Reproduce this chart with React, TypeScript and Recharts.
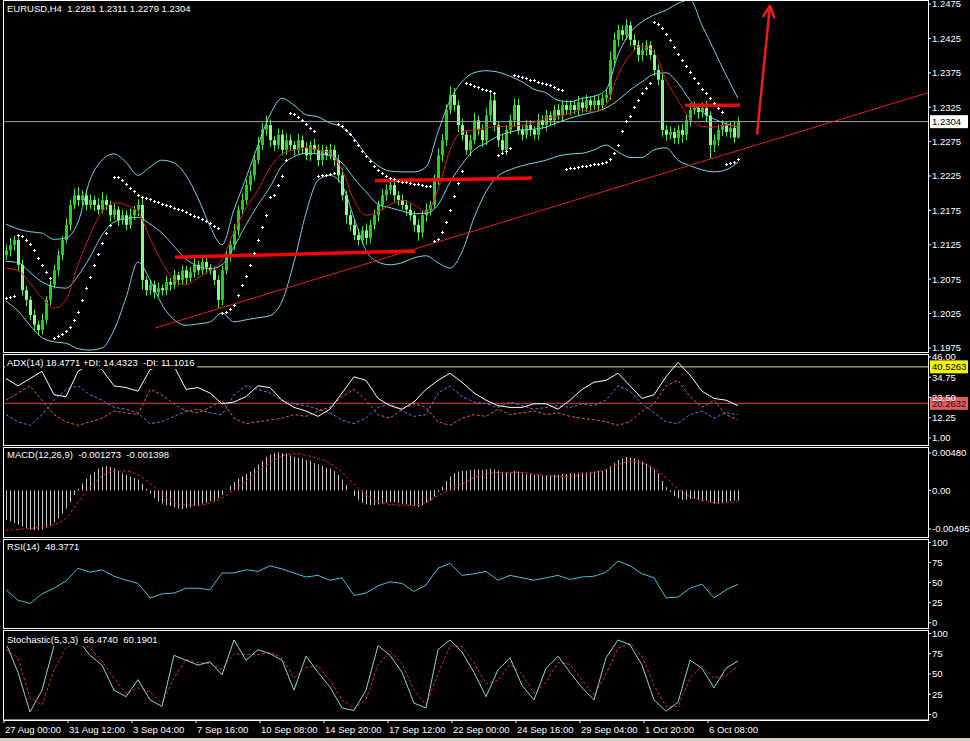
import React from "react";
import { ComposedChart, Bar, Line, XAxis, YAxis, ReferenceLine } from "recharts";

const FONT = '"Liberation Sans", Arial, sans-serif';
const FS = 9.5;

// prices are pips above 1.2000 (117 -> 1.2117), one value per H4 bar
const firstOpen = 110;
const closes = [
  117, 125, 132, 96, 59, 45, 23, 9, 1, 16,
  45, 67, 88, 110, 132, 154, 183, 197, 190, 197,
  183, 190, 183, 176, 190, 183, 168, 176, 161, 168,
  154, 168, 176, 183, 74, 59, 67, 56, 62, 59,
  71, 67, 81, 74, 88, 77, 85, 96, 88, 100,
  92, 88, 74, 45, 88, 110, 125, 146, 176, 190,
  212, 226, 248, 270, 292, 299, 277, 270, 285, 263,
  277, 270, 263, 277, 266, 255, 270, 263, 248, 263,
  255, 263, 248, 226, 197, 168, 154, 139, 132, 146,
  135, 154, 168, 183, 197, 205, 212, 197, 190, 183,
  176, 168, 154, 143, 168, 176, 183, 219, 255, 277,
  321, 343, 328, 299, 285, 263, 277, 306, 292, 277,
  313, 335, 299, 277, 263, 292, 306, 328, 292, 285,
  299, 292, 285, 306, 299, 313, 306, 321, 313, 328,
  321, 328, 321, 332, 324, 335, 328, 335, 328, 338,
  343, 394, 423, 437, 430, 444, 423, 415, 401, 408,
  415, 401, 379, 365, 292, 285, 289, 280, 292, 285,
  306, 321, 324, 318, 324, 313, 270, 277, 292, 299,
  289, 295, 281, 304,
];
const wickUp = [
  8, 10, 6, 5, 7, 6, 5, 8, 6, 9,
  5, 6, 8, 7, 6, 9, 8, 10, 12, 7,
  9, 8, 6, 10, 12, 7, 6, 9, 5, 8,
  7, 10, 6, 8, 9, 5, 7, 6, 8, 5,
  9, 6, 8, 5, 7, 6, 8, 10, 6, 7,
  8, 5, 6, 7, 6, 8, 7, 9, 6, 10,
  8, 7, 9, 12, 10, 14, 8, 6, 9, 7,
  10, 8, 6, 9, 7, 8, 6, 9, 8, 7,
  6, 9, 7, 8, 10, 6, 7, 8, 9, 6,
  10, 7, 8, 6, 9, 8, 11, 7, 6, 8,
  7, 9, 6, 8, 7, 9, 6, 8, 10, 9,
  8, 12, 10, 7, 9, 6, 8, 11, 7, 8,
  10, 12, 8, 6, 9, 7, 8, 10, 9, 6,
  8, 7, 6, 9, 7, 8, 6, 7, 9, 6,
  8, 7, 6, 9, 7, 8, 6, 7, 8, 6,
  7, 12, 10, 8, 7, 9, 6, 8, 7, 10,
  8, 6, 7, 8, 9, 7, 8, 6, 7, 9,
  8, 10, 9, 7, 8, 10, 6, 9, 8, 7,
  6, 8, 10, 7,
];
const wickDown = [
  7, 9, 8, 10, 8, 9, 7, 10, 8, 6,
  7, 8, 6, 9, 7, 5, 8, 6, 9, 7,
  8, 6, 9, 7, 5, 8, 10, 6, 9, 7,
  8, 6, 7, 9, 14, 8, 7, 9, 6, 8,
  7, 9, 6, 8, 7, 9, 6, 8, 7, 6,
  9, 7, 8, 12, 8, 6, 9, 7, 8, 6,
  7, 9, 8, 6, 7, 8, 10, 9, 6, 8,
  7, 9, 8, 6, 9, 7, 8, 6, 9, 8,
  7, 6, 9, 10, 8, 12, 9, 7, 8, 6,
  10, 8, 7, 9, 6, 8, 7, 9, 8, 7,
  9, 8, 10, 12, 7, 9, 8, 6, 7, 9,
  8, 6, 9, 10, 8, 7, 9, 6, 8, 10,
  7, 8, 9, 10, 7, 8, 6, 9, 7, 8,
  6, 9, 7, 8, 6, 9, 7, 8, 6, 9,
  7, 8, 6, 9, 7, 6, 8, 7, 9, 8,
  7, 8, 9, 10, 8, 7, 9, 8, 10, 9,
  8, 7, 9, 8, 10, 9, 7, 8, 9, 12,
  8, 9, 7, 10, 8, 9, 20, 10, 8, 9,
  7, 9, 8, 2,
];
// parabolic SAR, one dot per bar
const sar = [
  48, 49, 50,
  139, 138, 132, 126, 117, 106, 96, 86, 77,
  -10, -8, -5, 0, 6, 15, 28, 45, 62, 78, 95, 112, 128, 142, 154,
  224, 223, 219, 214, 208, 203, 198, 195, 193, 191, 189, 187, 185, 183, 181,
  179, 177, 175, 172, 170, 167, 165, 162, 159, 156, 153, 150,
  26, 27, 31, 38, 52, 66, 80, 96, 113, 132, 151, 168, 194, 197, 212, 225, 248,
  316, 315, 311, 306, 300, 295, 290,
  225, 226, 227, 228, 229,
  300, 297, 292, 286, 278, 270, 262, 254, 247, 240, 234, 229, 225, 222, 220,
  218, 217, 216, 215, 214, 213, 212, 211, 210,
  130, 133, 143, 158, 175, 196, 215, 232,
  360, 358, 356, 354, 352, 350, 348, 346,
  255, 258, 262, 266,
  372, 370, 369, 367, 365, 364, 362, 360, 359, 357, 355, 352, 350,
  235, 236, 237, 238, 239, 240, 241, 242, 243, 244, 246, 250, 258, 270, 290,
  305, 312, 325, 336, 345, 353, 360,
  449, 446, 440, 432, 423, 413, 403, 394, 385, 376, 368, 360, 352, 345, 338,
  331, 324, 318,
  242, 244, 246, 249,
];
// MACD histogram in units of 0.0001, one per bar
const macdHist = [
  -38, -40, -42, -44, -46, -48, -50, -51, -51, -50,
  -48, -45, -41, -36, -30, -23, -15, -6, 2, 9,
  15, 20, 24, 28, 30, 31, 30, 28, 25, 22,
  20, 18, 16, 14, 8, 2, -4, -10, -14, -17,
  -19, -20, -22, -23, -24, -23, -22, -20, -19, -17,
  -16, -14, -13, -10, -6, 0, 6, 11, 15, 18,
  21, 24, 28, 33, 38, 43, 46, 48, 49, 48,
  47, 45, 43, 42, 41, 39, 38, 35, 33, 31,
  29, 28, 25, 20, 14, 7, 0, -7, -12, -16,
  -18, -19, -19, -18, -17, -16, -15, -15, -16, -17,
  -18, -19, -20, -21, -19, -16, -13, -8, -2, 5,
  12, 18, 22, 24, 25, 25, 26, 27, 27, 26,
  27, 28, 27, 25, 23, 23, 24, 25, 24, 22,
  21, 21, 20, 20, 19, 19, 20, 20, 20, 21,
  21, 22, 22, 22, 23, 23, 24, 24, 25, 25,
  27, 31, 35, 39, 41, 43, 42, 41, 39, 37,
  34, 31, 27, 22, 12, 4, -2, -7, -10, -12,
  -12, -11, -11, -12, -13, -13, -15, -17, -17, -16,
  -15, -14, -13, -13,
];

// indicator curves, read every 3rd bar
const STEP = 3;
const bandUpper = [
  155, 148, 144, 142, 133, 135, 158, 219, 248, 257,
  245, 226, 238, 248, 244, 226, 193, 152, 125, 176,
  222, 270, 314, 338, 328, 314, 311, 302, 296, 280,
  256, 240, 232, 231, 231, 238, 289, 335, 362, 375,
  378, 376, 370, 362, 351, 346, 335, 333, 338, 341,
  350, 401, 433, 449, 459, 466, 476, 481, 444, 408,
  372, 338,
];
const bandMid = [
  101, 99, 85, 71, 64, 62, 80, 107, 139, 158,
  163, 165, 155, 142, 123, 104, 94, 90, 96, 122,
  154, 183, 209, 240, 253, 258, 257, 255, 244, 222,
  202, 184, 179, 174, 170, 171, 183, 216, 242, 263,
  273, 283, 289, 292, 293, 296, 303, 309, 314, 318,
  324, 335, 350, 362, 373, 375, 360, 335, 318, 308,
  301, 296,
];
const bandLower = [
  43, 29, 8, -10, -16, -18, -26, -28, -25, 1,
  48, 100, 74, 38, 16, 8, 10, 13, 26, 13,
  16, 19, 22, 43, 100, 171, 219, 226, 212, 164,
  117, 100, 96, 99, 106, 109, 99, 91, 115, 164,
  202, 225, 234, 240, 244, 248, 254, 257, 258, 263,
  270, 260, 252, 252, 263, 266, 248, 240, 234, 231,
  234, 245,
];
const maRed = [
  91, 88, 69, 48, 33, 45, 96, 139, 173, 186,
  183, 173, 135, 100, 74, 67, 77, 88, 103, 144,
  178, 205, 237, 257, 263, 266, 263, 258, 234, 190,
  168, 173, 183, 190, 183, 173, 205, 263, 289, 292,
  295, 297, 297, 299, 303, 309, 312, 316, 321, 318,
  328, 372, 401, 414, 405, 365, 335, 309, 297, 296,
  299, 297,
];
const macdSignal = [
  -51, -50, -49, -47, -44, -36, -15, 4, 18, 25,
  25, 20, 9, -4, -15, -19, -19, -16, -10, 1,
  12, 25, 35, 44, 47, 45, 41, 35, 23, 8,
  -5, -14, -18, -19, -19, -15, -7, 1, 8, 16,
  21, 23, 23, 23, 21, 19, 18, 18, 20, 23,
  27, 33, 37, 35, 28, 16, 2, -8, -13, -16,
  -16, -14,
];
const rsi14 = [
  41, 28, 24, 36, 43, 52, 68, 63, 66, 58,
  53, 49, 31, 36, 37, 43, 43, 41, 62, 62,
  66, 64, 71, 67, 62, 57, 59, 53, 56, 34,
  37, 46, 51, 49, 39, 47, 68, 74, 59, 61,
  64, 53, 59, 56, 53, 56, 59, 54, 57, 58,
  63, 77, 71, 61, 56, 31, 32, 43, 48, 31,
  41, 48,
];
const stochK = [
  88, 52, 3, 30, 85, 87, 92, 73, 61, 30,
  22, 43, 18, 10, 73, 67, 61, 65, 49, 92,
  67, 80, 75, 67, 30, 72, 52, 34, 8, 5,
  30, 85, 73, 52, 14, 8, 80, 92, 77, 52,
  22, 55, 70, 36, 18, 57, 72, 52, 33, 18,
  70, 92, 86, 61, 18, 4, 15, 67, 57, 33,
  57, 66,
];
const stochD = [
  80, 70, 20, 12, 55, 82, 90, 82, 66, 45,
  26, 33, 28, 14, 45, 68, 64, 63, 56, 75,
  74, 74, 77, 70, 45, 58, 60, 42, 18, 7,
  18, 62, 78, 63, 30, 12, 50, 85, 84, 64,
  38, 42, 62, 50, 26, 40, 64, 62, 42, 24,
  50, 82, 88, 72, 36, 10, 10, 45, 60, 45,
  48, 60,
];
const adx14 = [
  34, 30, 34, 38, 25, 24, 38, 42, 39, 30,
  29, 27, 39, 41, 41, 28, 29, 26, 20, 21,
  24, 30, 29, 22, 18, 16, 13, 17, 26, 35,
  33, 23, 19, 17, 21, 28, 33, 37, 32, 26,
  22, 19, 18, 18, 20, 20, 17, 22, 28, 32,
  33, 37, 30, 23, 25, 35, 43, 36, 27, 23,
  22, 19,
];
const plusDI = [
  14, 10, 8, 14, 22, 28, 30, 25, 22, 18,
  17, 15, 9, 10, 13, 16, 17, 15, 14, 25,
  30, 28, 26, 22, 20, 19, 17, 15, 11, 9,
  12, 18, 20, 16, 13, 14, 26, 30, 24, 21,
  20, 18, 21, 19, 17, 18, 19, 18, 20, 19,
  22, 30, 27, 20, 15, 10, 9, 14, 16, 12,
  15, 14,
];
const minusDI = [
  22, 26, 30, 22, 14, 10, 8, 10, 12, 16,
  15, 14, 28, 25, 20, 16, 15, 18, 22, 12,
  9, 10, 11, 12, 14, 13, 16, 18, 24, 28,
  22, 14, 12, 17, 20, 18, 10, 8, 12, 14,
  13, 17, 14, 15, 16, 14, 15, 13, 12, 11,
  10, 8, 10, 16, 20, 30, 33, 24, 18, 22,
  14, 11,
];

const timeLabels = [
  "27 Aug 00:00", "31 Aug 12:00", "3 Sep 04:00", "7 Sep 16:00", "10 Sep 08:00", "14 Sep 20:00",
  "17 Sep 12:00", "22 Sep 00:00", "24 Sep 16:00", "29 Sep 04:00", "1 Oct 20:00", "6 Oct 08:00",
];
const BARS_PER_LABEL = 16;
const priceTicks = [475, 425, 375, 325, 275, 225, 175, 125, 75, 25, -25];
const adxTicks = [46, 34.75, 23.5, 12.25, 1];
const adxLevels = [40.5263, 20.2632];
const macdTicks = [48, 0, -49.5];
const macdTickLabels = ["0.00480", "0.00", "-0.00495"];
const pctTicks = [100, 75, 50, 25, 0];

// hand drawn objects on the price window (bar index, pips)
const supportLines = [
  [{ x: 42.25, y: 107 }, { x: 102.25, y: 116 }],
  [{ x: 92.25, y: 218 }, { x: 131.5, y: 222 }],
  [{ x: 169.75, y: 328 }, { x: 183.5, y: 328 }],
];
const trendLine = [{ x: 37.25, y: 4 }, { x: 230.5, y: 346 }];
const arrowLines = [
  [{ x: 187.75, y: 285 }, { x: 191, y: 473 }],
  [{ x: 191, y: 473 }, { x: 189.2, y: 456 }],
  [{ x: 191, y: 473 }, { x: 192.15, y: 454 }],
];

const toPrice = (v: number) => (1.2 + v / 10000).toFixed(4);

const rows = closes.map((close, i) => {
  const open = i === 0 ? firstOpen : closes[i - 1];
  const s = i % STEP === 0;
  const k = i / STEP;
  const pick = (arr: number[]) => (s ? arr[k] : null);
  return {
    i,
    open,
    close,
    range: [Math.min(open, close) - wickDown[i], Math.max(open, close) + wickUp[i]],
    sar: sar[i],
    macd: macdHist[i],
    upper: pick(bandUpper),
    mid: pick(bandMid),
    lower: pick(bandLower),
    ma: pick(maRed),
    signal: pick(macdSignal),
    rsi: pick(rsi14),
    k: pick(stochK),
    d: pick(stochD),
    adx: pick(adx14),
    pdi: pick(plusDI),
    mdi: pick(minusDI),
  };
});
const last = rows[rows.length - 1];

const Candle = (props: any) => {
  const { x, y, width, height, payload } = props;
  const [lo, hi] = payload.range;
  const top = Math.min(y, y + height);
  const h = Math.abs(height);
  const k = h / (hi - lo);
  const bodyTop = top + (hi - Math.max(payload.open, payload.close)) * k;
  const bodyH = Math.max(1, Math.abs(payload.close - payload.open) * k);
  const cx = Math.round(x + width / 2);
  const up = payload.close >= payload.open;
  return (
    <g>
      <line x1={cx + 0.5} x2={cx + 0.5} y1={top} y2={top + h} stroke="#4ee84e" />
      <rect x={cx - 1} y={bodyTop} width={3} height={bodyH} fill={up ? "#22d022" : "#8dfa8d"} />
    </g>
  );
};

const HistBar = (props: any) => {
  const cx = Math.round(props.x + props.width / 2) + 0.5;
  return <line x1={cx} x2={cx} y1={props.y} y2={props.y + props.height} stroke="#c8c8c8" />;
};

const SarDot = (props: any) => {
  const { cx, cy, index } = props;
  if (cy == null) return <g key={`s${index}`} />;
  const x = Math.round(cx) + 0.5;
  const y = Math.round(cy) + 0.5;
  return <path key={`s${index}`} d={`M${x - 1.5} ${y}h3M${x} ${y - 1.5}v3`} stroke="#ffffff" />;
};

const tag = (bg: string, fg: string, text: string) => (p: any) => {
  const vb = p.viewBox;
  const x = vb.x + vb.width + 2;
  return (
    <g>
      <rect x={x} y={vb.y - 6.5} width={38} height={13} fill={bg} />
      <text x={x + 2} y={vb.y + 3.5} fill={fg} fontSize={FS} fontFamily={FONT}>
        {text}
      </text>
    </g>
  );
};

const TimeTick = (props: any) => {
  const { x, y, payload } = props;
  const label = timeLabels[Math.round((payload.value + 0.5) / BARS_PER_LABEL)];
  return (
    <text x={x + 1} y={y} dy={8} fill="#fff" fontSize={FS} fontFamily={FONT}>
      {label}
    </text>
  );
};

const xDomain: [number, number] = [-0.5, 230.5];
const xHidden = <XAxis type="number" dataKey="i" domain={xDomain} hide allowDataOverflow />;

const yAxis = (domain: [number, number], ticks: number[], fmt: (v: number) => string) => (
  <YAxis
    orientation="right"
    width={42}
    domain={domain}
    ticks={ticks}
    interval={0}
    allowDataOverflow
    axisLine={false}
    tickLine={{ stroke: "#fff" }}
    tickSize={3}
    tickMargin={1}
    tick={{ fill: "#fff", fontSize: FS, fontFamily: FONT }}
    tickFormatter={fmt}
  />
);

const margin = { top: 0, right: 0, bottom: 0, left: 4 };

function Frame({ top, height }: { top: number; height: number }) {
  return (
    <div
      style={{
        position: "absolute",
        left: 3,
        top,
        width: 926,
        height: height + 1,
        border: "1px solid #fff",
        boxSizing: "border-box",
        pointerEvents: "none",
      }}
    />
  );
}

function Caption({ top, text }: { top: number; text: string }) {
  return (
    <div
      style={{
        position: "absolute",
        left: 5,
        top,
        padding: "0 2px",
        background: "#000",
        color: "#fff",
        fontFamily: FONT,
        fontSize: FS,
        lineHeight: "12px",
        whiteSpace: "pre",
      }}
    >
      {text}
    </div>
  );
}

const at = (top: number): React.CSSProperties => ({ position: "absolute", left: 0, top });

export default function App() {
  const timeTicks = timeLabels.map((_, n) => n * BARS_PER_LABEL - 0.5);
  return (
    <div style={{ position: "absolute", left: 0, top: 0, width: 970, height: 741, background: "#000", overflow: "hidden" }}>
      {/* price window */}
      <div style={at(0)}>
        <ComposedChart width={970} height={352} data={rows} margin={margin}>
          {xHidden}
          {yAxis([-30.8, 480.8], priceTicks, toPrice)}
          <ReferenceLine y={last.close} stroke="#a8a8a8" label={tag("#ffffff", "#000000", toPrice(last.close))} />
          <Line dataKey="upper" type="monotone" stroke="#73d3e6" dot={false} connectNulls isAnimationActive={false} />
          <Line dataKey="mid" type="monotone" stroke="#73d3e6" dot={false} connectNulls isAnimationActive={false} />
          <Line dataKey="lower" type="monotone" stroke="#73d3e6" dot={false} connectNulls isAnimationActive={false} />
          <Bar dataKey="range" barSize={3} shape={Candle} isAnimationActive={false} />
          <Line dataKey="ma" type="monotone" stroke="#d21c1c" dot={false} connectNulls isAnimationActive={false} />
          <Line dataKey="sar" stroke="none" dot={SarDot} activeDot={false} isAnimationActive={false} />
          <ReferenceLine segment={trendLine} stroke="#e02020" ifOverflow="visible" />
          {supportLines.map((seg, n) => (
            <ReferenceLine key={`sl${n}`} segment={seg} stroke="#ff0000" strokeWidth={3.5} ifOverflow="visible" />
          ))}
          {arrowLines.map((seg, n) => (
            <ReferenceLine key={`ar${n}`} segment={seg} stroke="#ee1c1c" strokeWidth={2.5} ifOverflow="visible" />
          ))}
        </ComposedChart>
      </div>

      {/* ADX */}
      <div style={at(354)}>
        <ComposedChart width={970} height={91} data={rows} margin={margin}>
          {xHidden}
          {yAxis([-2.89, 47.67], adxTicks, (v) => v.toFixed(2))}
          <ReferenceLine y={adxLevels[0]} stroke="#d8d88a" label={tag("#f4f400", "#000000", adxLevels[0].toFixed(4))} />
          <ReferenceLine y={adxLevels[1]} stroke="#d04545" label={tag("#dc6060", "#3a0000", adxLevels[1].toFixed(4))} />
          <Line dataKey="pdi" stroke="#6f6fe0" strokeDasharray="3 2" dot={false} connectNulls isAnimationActive={false} />
          <Line dataKey="mdi" stroke="#e0603c" strokeDasharray="3 2" dot={false} connectNulls isAnimationActive={false} />
          <Line dataKey="adx" stroke="#ffffff" dot={false} connectNulls isAnimationActive={false} />
        </ComposedChart>
      </div>

      {/* MACD */}
      <div style={at(447)}>
        <ComposedChart width={970} height={90} data={rows} margin={margin}>
          {xHidden}
          {yAxis([-59.8, 55.7], macdTicks, (v) => macdTickLabels[macdTicks.indexOf(v)])}
          <Bar dataKey="macd" barSize={1} shape={HistBar} isAnimationActive={false} />
          <Line dataKey="signal" type="monotone" stroke="#e02020" strokeDasharray="3 2" dot={false} connectNulls isAnimationActive={false} />
        </ComposedChart>
      </div>

      {/* RSI */}
      <div style={at(539)}>
        <ComposedChart width={970} height={89} data={rows} margin={margin}>
          {xHidden}
          {yAxis([-6.6, 104.4], pctTicks, (v) => String(v))}
          <Line dataKey="rsi" stroke="#3ec6d6" dot={false} connectNulls isAnimationActive={false} />
        </ComposedChart>
      </div>

      {/* Stochastic */}
      <div style={at(630)}>
        <ComposedChart width={970} height={111} data={rows} margin={margin}>
          <XAxis
            type="number"
            dataKey="i"
            domain={xDomain}
            allowDataOverflow
            ticks={timeTicks}
            interval={0}
            height={21}
            axisLine={{ stroke: "#fff" }}
            tickLine={{ stroke: "#fff" }}
            tickSize={3}
            tick={TimeTick}
          />
          {yAxis([-6.8, 104.3], pctTicks, (v) => String(v))}
          <Line dataKey="d" stroke="#d42a2a" strokeDasharray="3 2" dot={false} connectNulls isAnimationActive={false} />
          <Line dataKey="k" stroke="#8ed8d0" dot={false} connectNulls isAnimationActive={false} />
        </ComposedChart>
      </div>

      <Frame top={0} height={352} />
      <Frame top={354} height={91} />
      <Frame top={447} height={90} />
      <Frame top={539} height={89} />
      <Frame top={630} height={90} />

      <Caption top={3} text="EURUSD,H4  1.2281 1.2311 1.2279 1.2304" />
      <Caption top={357} text="ADX(14) 18.4771 +DI: 14.4323  -DI: 11.1016" />
      <Caption top={449} text="MACD(12,26,9)  -0.001273  -0.001398" />
      <Caption top={541} text="RSI(14)  48.3771" />
      <Caption top={634} text="Stochastic(5,3,3)  66.4740  60.1901" />

      <div style={{ position: "absolute", left: 0, top: 738, width: 970, height: 3, background: "#d4d0c8" }} />
    </div>
  );
}
